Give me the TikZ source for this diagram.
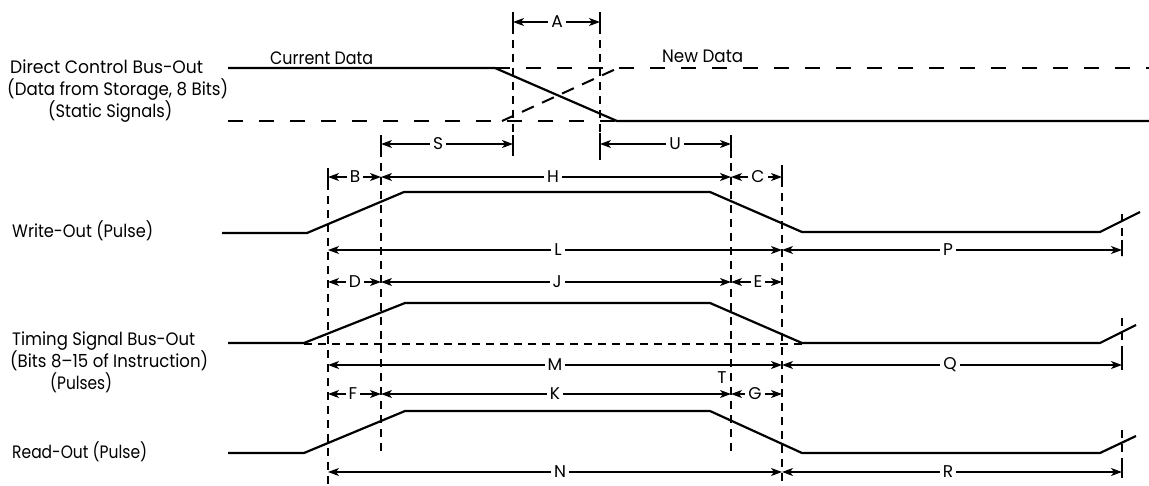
\documentclass[tikz,border=0pt]{standalone}
\usepackage{fontspec}
\usepackage{graphicx}
\setmainfont{Poppins}
\usetikzlibrary{arrows.meta}
\newcommand\fitw[2]{\resizebox{#1}{\height}{#2}}
\tikzset{
  sig/.style={line width=2.2pt, line join=round},
  sigd/.style={line width=2pt, dash pattern=on 15pt off 16pt},
  sigdiag/.style={line width=2pt, dash pattern=on 13pt off 9pt},
  guide/.style={line width=1.2pt, dash pattern=on 8pt off 6pt},
  tick/.style={line width=1.2pt},
  dim/.style={line width=1.1pt, {Stealth[length=11pt,width=8pt,inset=3pt]}-{Stealth[length=11pt,width=8pt,inset=3pt]}},
  lbl/.style={fill=white, inner sep=3pt, font=\fontsize{17}{20}\selectfont},
  txt/.style={font=\fontsize{18}{22}\selectfont, inner sep=0pt, anchor=base west},
}
\begin{document}
\begin{tikzpicture}[x=1pt,y=-1pt]
\useasboundingbox (0,0) rectangle (1149,485);

% guide lines (dashed verticals)
\draw[guide] (381,135) -- (381,455);
\draw[guide] (328,168) -- (328,485);
\draw[guide] (513,12) -- (513,152);
\draw[guide] (600,12) -- (600,160);
\draw[guide] (731,135) -- (731,455);
\draw[guide] (782,165) -- (782,485);
\draw[guide] (1122,214) -- (1122,256);
\draw[guide] (1122,318) -- (1122,370);
\draw[guide] (1122,430) -- (1122,478);
\draw[guide] (304,344) -- (802,344);

% solid end ticks
\draw[tick] (513,12) -- (513,34);
\draw[tick] (600,12) -- (600,34);
\draw[tick] (381,135) -- (381,156);
\draw[tick] (513,135) -- (513,156);
\draw[tick] (600,133) -- (600,160);
\draw[tick] (731,135) -- (731,158);
\draw[tick] (328,168) -- (328,188);
\draw[tick] (782,168) -- (782,186);
\draw[tick] (1122,240) -- (1122,256);
\draw[tick] (1122,352) -- (1122,370);
\draw[tick] (1122,462) -- (1122,478);

% Direct Control Bus-Out
\draw[sigd] (228,121) -- (617,121);
\draw[sigd] (495,68) -- (1149,68);
\draw[sigdiag] (502,121) -- (618,68);
\draw[sig] (228,68) -- (495,68) -- (617,121) -- (1149,121);

% Write-Out
\draw[sig] (222,233) -- (307,233) -- (404,192) -- (710,192) -- (802,232) -- (1100,232) -- (1140,212);
% Timing Signal Bus-Out
\draw[sig] (228,343) -- (304,343) -- (405,303) -- (710,303) -- (802,343) -- (1100,343) -- (1136,325);
% Read-Out
\draw[sig] (228,453) -- (304,453) -- (405,411) -- (710,411) -- (802,453) -- (1100,453) -- (1136,436);

% dimension arrows
\foreach \y/\a/\b/\l/\lx in {
  22/513/600/A/557, 144/381/513/S/438, 144/600/731/U/675,
  177/328/381/B/355, 177/381/731/H/553, 177/731/782/C/758,
  250/328/782/L/558, 250/782/1122/P/948,
  282/328/381/D/355, 282/381/731/J/557, 282/731/782/E/758,
  365/328/782/M/555, 365/782/1122/Q/950,
  394/328/381/F/353, 394/381/731/K/555, 394/731/782/G/755,
  472/328/782/N/560, 472/782/1122/R/948} {
  \draw[dim] (\a,\y) -- (\b,\y);
  \node[lbl] (lab\l) at (\lx,\y) {\l};
}
\node[lbl, fill=none] (labT) at (722,378) {T};

% texts
\node[txt] (dcb1) at (10,73) {\fitw{193pt}{Direct Control Bus-Out}};
\node[txt] (dcb2) at (7,95) {\fitw{221pt}{(Data from Storage, 8 Bits)}};
\node[txt] (dcb3) at (48,117) {\fitw{124pt}{(Static Signals)}};
\node[txt] (cur) at (270,64) {\fitw{103pt}{Current Data}};
\node[txt] (new) at (662,62) {\fitw{81pt}{New Data}};
\node[txt] (wo) at (12,237) {\fitw{141pt}{Write-Out (Pulse)}};
\node[txt] (ts1) at (12,345) {\fitw{183pt}{Timing Signal Bus-Out}};
\node[txt] (ts2) at (10,367) {\fitw{198pt}{(Bits 8–15 of Instruction)}};
\node[txt] (ts3) at (50,389) {\fitw{62pt}{(Pulses)}};
\node[txt] (ro) at (12,458) {\fitw{135pt}{Read-Out (Pulse)}};
\end{tikzpicture}
\end{document}
